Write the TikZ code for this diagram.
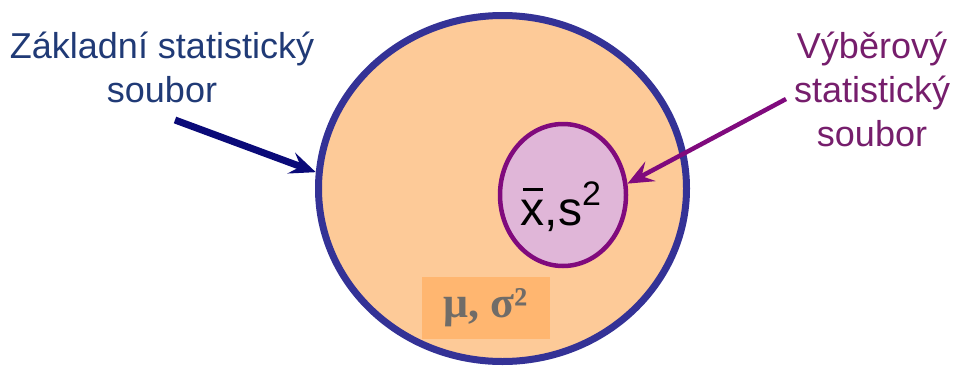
\documentclass[tikz,border=0pt]{standalone}
\usepackage{fontspec}
\setmainfont{Liberation Sans}
\newfontfamily\paramfont{Liberation Serif}
\usepackage{xcolor}
\usepackage{tikz}
\usetikzlibrary{
  arrows.meta,
  positioning,
  shapes.geometric
}
\definecolor{popfill}{RGB}{253,202,152}
\definecolor{popline}{RGB}{52,50,150}
\definecolor{smpfill}{RGB}{224,182,216}
\definecolor{smpline}{RGB}{128,10,125}
\definecolor{poptext}{RGB}{32,58,118}
\definecolor{poparrow}{RGB}{10,10,120}
\definecolor{smptext}{RGB}{118,30,108}
\definecolor{parambox}{RGB}{255,182,112}
\definecolor{paramtext}{RGB}{112,108,104}
\newcommand{\xbar}{\rlap{\hspace{2pt}\raisebox{35pt}{\rule{20pt}{2.4pt}}}x}

\begin{document}
\begin{tikzpicture}[
  x=1pt, y=-1pt,
  set/.style={ellipse, inner sep=0pt},
  label/.style={align=center, font=\fontsize{36}{44}\selectfont},
  pointer/.style={-{Stealth[length=26pt, width=22pt, inset=10pt]}}
]
\useasboundingbox (0,0) rectangle (960,367);

% population and sample
\node[set, draw=popline, fill=popfill, line width=7pt,
      minimum width=368pt, minimum height=346pt] (pop) at (502.5,188.5) {};
\node[set, draw=smpline, fill=smpfill, line width=4.5pt,
      minimum width=126pt, minimum height=142pt] (smp) at (563,195) {};

% parameters
\node[fill=parambox, minimum width=128pt, minimum height=62pt, inner sep=0pt,
      font=\paramfont\bfseries\fontsize{44}{44}\selectfont, text=paramtext]
  (param) at (486,308) {μ, σ²};
\node[font=\fontsize{48}{48}\selectfont, text=black] (stat) at (561,207)
  {\xbar,s\raisebox{20pt}{\fontsize{34}{34}\selectfont 2}};

% labels
\node[label, text=poptext] (poplabel) at (162,67) {Základní statistický\\soubor};
\node[label, text=smptext] (smplabel) at (872,89) {Výběrový\\statistický\\soubor};

\coordinate (poptail) at (175,120);
\coordinate (smptail) at (786,99);
\draw[pointer, draw=poparrow, fill=poparrow, line width=7pt] (poptail) -- (pop.175);
\draw[pointer, draw=smpline, fill=smpline, line width=4.5pt] (smptail) -- (smp.10);
\end{tikzpicture}
\end{document}
